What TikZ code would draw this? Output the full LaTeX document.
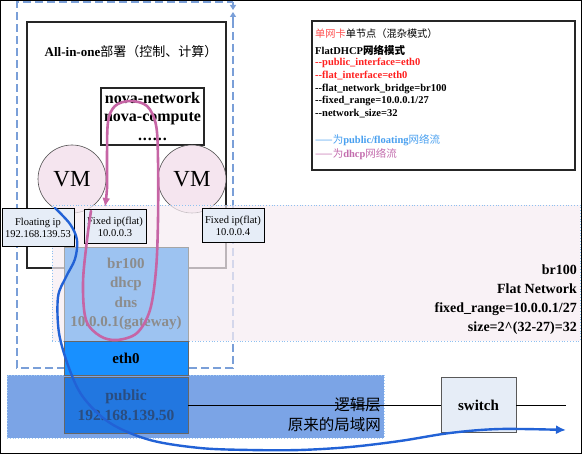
\documentclass[tikz,border=0pt]{standalone}
\usepackage{fontspec}
\setmainfont{Liberation Serif}
\newfontfamily\cjk{Noto Sans CJK SC}
\usetikzlibrary{arrows.meta}
\definecolor{pinkfill}{HTML}{F7EDF3}
\definecolor{vmfill}{HTML}{F5E5EF}
\definecolor{lightbox}{HTML}{E6EDF7}
\definecolor{dashblue}{HTML}{7A9FD8}
\definecolor{dotblue}{HTML}{8EC0F0}
\definecolor{brfill}{HTML}{9DC3F1}
\definecolor{brtext}{HTML}{8C8C8C}
\definecolor{ethfill}{HTML}{1890FF}
\definecolor{pubfill}{HTML}{2277E0}
\definecolor{pubtext}{HTML}{2A4D80}
\definecolor{bandfill}{HTML}{7BA4E6}
\definecolor{flowpink}{HTML}{C665A5}
\definecolor{flowblue}{HTML}{2262D6}
\definecolor{redtxt}{HTML}{FF2020}
\definecolor{redlight}{HTML}{FF5050}
\definecolor{legblue}{HTML}{49A0F0}
\definecolor{legpink}{HTML}{C36CAD}
\tikzset{
  rbox/.style={rectangle, inner sep=0pt, outer sep=0pt},
  smallbox/.style={rbox, fill=lightbox, draw=black, line width=1pt, align=center,
    font=\fontsize{10.5}{12.5}\selectfont},
  vm/.style={circle, inner sep=0pt, minimum size=68pt, fill=vmfill, draw=black!70,
    line width=0.6pt, font=\fontsize{23}{25}\selectfont},
  infoline/.style={anchor=west, inner sep=0pt, font=\fontsize{10.5}{12}\selectfont\bfseries},
  righttxt/.style={anchor=east, inner sep=0pt, align=right,
    font=\fontsize{14}{19}\selectfont\bfseries},
  flow/.style={line width=2.6pt, line cap=round},
}
\begin{document}
\begin{tikzpicture}[x=1pt,y=-1pt]
\useasboundingbox (0,0) rectangle (582,454);
% outer frame
\draw[line width=1pt] (0.5,0.5) rectangle (581.5,453.5);
% dashed host area
\draw[dashblue, line width=1.3pt, dash pattern=on 8pt off 4pt]
  (233,20) -- (233,368) -- (17,368) -- (17,2) -- (233,2);
\draw[dashblue, line width=1.3pt, -{Triangle[length=5pt,width=6pt]}] (233,2) -- (233,10);
\draw[dashblue, line width=1.3pt, -{Triangle[length=5pt,width=6pt]}] (233,20) -- (233,12);
% all-in-one box
\node[rbox, minimum width=199pt, minimum height=246pt, draw=black!85, line width=1.6pt] (aio) at (126.5,145) {};
\node[font=\fontsize{13}{15}\selectfont\bfseries] (title) at (131,52) {All-in-one{\cjk\mdseries 部署（控制、计算）}};
% nova box
\node[rbox, minimum width=103pt, minimum height=57pt, draw=black!85, line width=1.2pt, fill=white,
  align=center, font=\fontsize{16}{18.5}\selectfont\bfseries] (nova) at (152.5,116.5)
  {nova-network\\nova-compute\\.\kern1pt.\kern1pt.\kern1pt.\kern1pt.\kern1pt.};
% VMs
\node[vm] (vm1) at (72,179) {VM};
\node[vm] (vm2) at (192,179) {VM};
% flat network region
\node[rbox, minimum width=528pt, minimum height=136pt, fill=pinkfill, fill opacity=0.72,
  draw=dotblue, dotted, line width=0.8pt] (flatnet) at (316,273) {};
% small ip boxes
\node[smallbox, minimum width=72pt, minimum height=38pt] (float) at (38,228) {Floating ip\\192.168.139.53};
\node[smallbox, minimum width=62pt, minimum height=34pt] (fix3) at (115,227) {Fixed ip(flat)\\10.0.0.3};
\node[smallbox, minimum width=62pt, minimum height=34pt] (fix4) at (233,226) {Fixed ip(flat)\\10.0.0.4};
% br100 box
\node[rbox, minimum width=124pt, minimum height=94pt, fill=brfill, draw=black!35, line width=0.8pt,
  align=center, text=brtext, font=\fontsize{15}{19.3}\selectfont\bfseries] (br) at (126,294)
  {br100\\dhcp\\dns\\10.0.0.1(gateway)};
% logical layer band
\node[rbox, minimum width=377pt, minimum height=63pt, fill=bandfill, draw=dotblue!80!white,
  dotted, line width=0.8pt] (band) at (195.5,406.5) {};
% eth0 / public
\node[rbox, minimum width=124pt, minimum height=34pt, fill=ethfill, draw=black!60, line width=0.6pt,
  font=\fontsize{15}{17}\selectfont\bfseries] (eth) at (126,358) {eth0};
\node[rbox, minimum width=124pt, minimum height=56pt, fill=pubfill, draw=black!60, line width=0.6pt,
  align=center, text=pubtext, font=\fontsize{15.5}{20}\selectfont\bfseries] (pub) at (126,405)
  {public\\192.168.139.50};
% switch and line
\node[rbox, minimum width=75pt, minimum height=55pt, fill=lightbox, draw=black!65, line width=1pt,
  font=\fontsize{15}{17}\selectfont\bfseries] (switch) at (478.5,405.5) {switch};
\coordinate (lineend) at (566,405.5);
\draw[line width=1.2pt] (pub.east |- switch.west) -- (switch.west);
\draw[line width=1.2pt] (switch.east) -- (lineend);
\node[anchor=east, inner sep=0pt, font=\fontsize{15.5}{17}\selectfont\cjk] (logic) at (381,405) {逻辑层};
\node[anchor=east, inner sep=0pt, font=\fontsize{15.5}{17}\selectfont\cjk] (lan) at (381,425) {原来的局域网};
% right text
\node[righttxt] (flattxt) at (577,299.5) {br100\\Flat Network\\fixed\_range=10.0.0.1/27\\size=2\textasciicircum(32-27)=32};
% info box
\node[rbox, minimum width=263pt, minimum height=149pt, draw=black!85, line width=1.2pt, fill=white] (info) at (443.5,95.5) {};
\node[infoline, font=\fontsize{10.2}{12}\selectfont\cjk] (i1) at (315,34) {{\color{redlight}单网卡}单节点（混杂模式）};
\node[infoline] (i2) at (315,50) {FlatDHCP{\cjk 网络模式}};
\node[infoline, text=redtxt] (i3) at (315,63) {-{}-public\_interface=eth0};
\node[infoline, text=redtxt] (i4) at (315,76) {-{}-flat\_interface=eth0};
\node[infoline] (i5) at (315,88.5) {-{}-flat\_network\_bridge=br100};
\node[infoline] (i6) at (315,101) {-{}-fixed\_range=10.0.0.1/27};
\node[infoline] (i7) at (315,114) {-{}-network\_size=32};
\node[infoline, text=legblue] (i8) at (315,140) {{\cjk\mdseries ——为}public/floating{\cjk\mdseries 网络流}};
\node[infoline, text=legpink] (i9) at (315,154) {{\cjk\mdseries ——为}dhcp{\cjk\mdseries 网络流}};
% flows
\coordinate (pstart) at (91,211);
\coordinate (pend) at (105,207);
\draw[flow, flowpink, -{Latex[length=9pt,width=8pt]}] plot[smooth, tension=0.55] coordinates {
  (pstart) (87,240) (83,283) (86,320) (100,336) (117,340) (137,333) (150,310) (156,270) (158,220)
  (158,160) (156,125) (147,106) (130,101) (115,106) (108,122) (107,160) (107,188) (pend)};
\coordinate (bstart) at (55,208);
\coordinate (bend) at (566,430);
\draw[flow, flowblue, line width=2.4pt, -{Latex[length=10pt,width=9pt]}] plot[smooth, tension=0.55] coordinates {
  (bstart) (70,224) (77,240) (75,259) (66,277) (58,297) (59,333) (69,368) (83,397) (110,423) (150,440)
  (200,448) (250,450) (300,450) (350,447) (400,441) (450,433) (500,429) (bend)};
\end{tikzpicture}
\end{document}
